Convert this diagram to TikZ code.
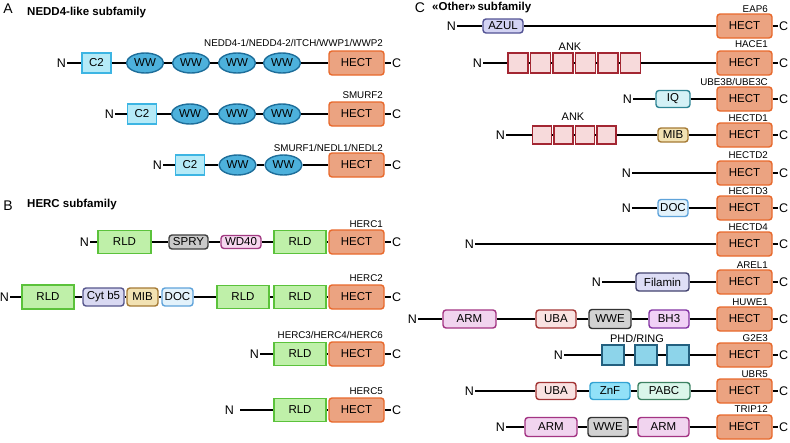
\documentclass[tikz,border=0pt]{standalone}
\usepackage{fontspec}
\setmainfont{Liberation Sans}
\usetikzlibrary{shapes.geometric}
\definecolor{hectfill}{HTML}{EBA381}
\definecolor{hectline}{HTML}{E8692C}
\definecolor{ctwofill}{HTML}{B5EAF7}
\definecolor{ctwoline}{HTML}{3DB5E3}
\definecolor{wwfill}{HTML}{4DB1DC}
\definecolor{wwline}{HTML}{1E6E9A}
\definecolor{rldfill}{HTML}{BFF0A9}
\definecolor{rldline}{HTML}{5BC23B}
\definecolor{spryfill}{HTML}{C9C9C9}
\definecolor{spryline}{HTML}{3F3F3F}
\definecolor{wdfill}{HTML}{F6D7EF}
\definecolor{wdline}{HTML}{A23B83}
\definecolor{cytfill}{HTML}{D9D9F2}
\definecolor{cytline}{HTML}{56568C}
\definecolor{mibfill}{HTML}{F2E2B3}
\definecolor{mibline}{HTML}{A57A35}
\definecolor{docfill}{HTML}{E3F2FB}
\definecolor{docline}{HTML}{5FA3DA}
\definecolor{azulfill}{HTML}{D3D3F3}
\definecolor{azulline}{HTML}{535394}
\definecolor{ankfill}{HTML}{F7DADB}
\definecolor{ankline}{HTML}{A32632}
\definecolor{iqfill}{HTML}{D4F1F6}
\definecolor{iqline}{HTML}{2E8494}
\definecolor{filfill}{HTML}{DEDEF6}
\definecolor{filline}{HTML}{43436F}
\definecolor{armfill}{HTML}{F1D4EF}
\definecolor{armline}{HTML}{A33483}
\definecolor{ubafill}{HTML}{F9E2E1}
\definecolor{ubaline}{HTML}{A33434}
\definecolor{wwefill}{HTML}{D2D2D2}
\definecolor{wweline}{HTML}{333333}
\definecolor{bhfill}{HTML}{F1D2F6}
\definecolor{bhline}{HTML}{8333A3}
\definecolor{phdfill}{HTML}{8DD4EA}
\definecolor{phdline}{HTML}{23607F}
\definecolor{znffill}{HTML}{91E1F8}
\definecolor{znfline}{HTML}{33A3D3}
\definecolor{pabcfill}{HTML}{DAF6EA}
\definecolor{pabcline}{HTML}{3D8263}

\tikzset{
  dom/.style={draw, line width=1.4pt, inner sep=0pt, font=\fontsize{11.5}{12}\selectfont},
  rdom/.style={dom, rounded corners=3pt},
  hect/.style={rdom, fill=hectfill, draw=hectline, minimum width=55pt, minimum height=24pt},
  ctwo/.style={dom, fill=ctwofill, draw=ctwoline, minimum width=29pt, minimum height=20pt},
  ww/.style={dom, ellipse, fill=wwfill, draw=wwline, minimum width=37pt, minimum height=20pt},
  rld/.style={dom, fill=rldfill, draw=rldline, minimum width=52pt, minimum height=23pt},
  spry/.style={rdom, fill=spryfill, draw=spryline},
  wdf/.style={rdom, fill=wdfill, draw=wdline},
  cyt/.style={rdom, fill=cytfill, draw=cytline},
  mib/.style={rdom, fill=mibfill, draw=mibline},
  doc/.style={rdom, fill=docfill, draw=docline},
  azul/.style={rdom, fill=azulfill, draw=azulline},
  ank/.style={dom, fill=ankfill, draw=ankline, minimum width=20pt, minimum height=20pt},
  iq/.style={rdom, fill=iqfill, draw=iqline},
  fil/.style={rdom, fill=filfill, draw=filline},
  arm/.style={rdom, fill=armfill, draw=armline},
  uba/.style={rdom, fill=ubafill, draw=ubaline},
  wwe/.style={rdom, fill=wwefill, draw=wweline},
  bh/.style={rdom, fill=bhfill, draw=bhline},
  phd/.style={dom, fill=phdfill, draw=phdline, minimum width=22pt, minimum height=20pt},
  znf/.style={rdom, fill=znffill, draw=znfline},
  pabc/.style={rdom, fill=pabcfill, draw=pabcline},
  nlab/.style={font=\fontsize{12.5}{14}\selectfont, inner sep=1pt, anchor=east},
  clab/.style={font=\fontsize{12.5}{14}\selectfont, inner sep=1pt, anchor=west},
  lab/.style={font=\fontsize{9.8}{11}\selectfont, inner sep=0pt, anchor=east},
  panel/.style={font=\fontsize{14}{16}\selectfont, inner sep=0pt},
  title/.style={font=\fontsize{11.5}{13}\bfseries\selectfont, inner sep=0pt, anchor=west},
  chain/.style={line width=1.8pt}
}

\begin{document}
\begin{tikzpicture}[x=1pt, y=-1pt]
  \useasboundingbox (0,0) rectangle (790,442);
  % A: NEDD4-like
  \node[panel] (pa) at (8,9) {A};
  \node[title] (ta) at (27,13) {NEDD4-like subfamily};
  % NEDD4-1 row
  \node[nlab] (a1n) at (67,63) {N};
  \node[ctwo] (a1d) at (96.5,63) {C2};
  \node[ww] (a1w1) at (145,63) {WW};
  \node[ww] (a1w2) at (191,63) {WW};
  \node[ww] (a1w3) at (237,63) {WW};
  \node[ww] (a1w4) at (282,63) {WW};
  \node[hect] (a1h) at (356.5,63) {HECT};
  \node[clab] (a1c) at (391,63) {C};
  \node[lab] (a1l) at (383,43) {NEDD4-1/NEDD4-2/ITCH/WWP1/WWP2};
  \draw[chain] (a1n) -- (a1d) -- (a1w1) -- (a1w2) -- (a1w3) -- (a1w4) -- (a1h) -- (a1c);
  % SMURF2 row
  \node[nlab] (a2n) at (115,114) {N};
  \node[ctwo] (a2d) at (142,114) {C2};
  \node[ww] (a2w1) at (190,114) {WW};
  \node[ww] (a2w2) at (237,114) {WW};
  \node[ww] (a2w3) at (282,114) {WW};
  \node[hect] (a2h) at (356.5,114) {HECT};
  \node[clab] (a2c) at (391,114) {C};
  \node[lab] (a2l) at (383,95) {SMURF2};
  \draw[chain] (a2n) -- (a2d) -- (a2w1) -- (a2w2) -- (a2w3) -- (a2h) -- (a2c);
  % SMURF1 row
  \node[nlab] (a3n) at (163,165) {N};
  \node[ctwo] (a3d) at (190,165) {C2};
  \node[ww] (a3w1) at (237.5,165) {WW};
  \node[ww] (a3w2) at (283.5,165) {WW};
  \node[hect] (a3h) at (356.5,165) {HECT};
  \node[clab] (a3c) at (391,165) {C};
  \node[lab] (a3l) at (383,148) {SMURF1/NEDL1/NEDL2};
  \draw[chain] (a3n) -- (a3d) -- (a3w1) -- (a3w2) -- (a3h) -- (a3c);

  % B: HERC
  \node[panel] (pb) at (8,206) {B};
  \node[title] (tb) at (27,205) {HERC subfamily};
  % HERC1 row
  \node[nlab] (b1n) at (90,242) {N};
  \node[rld, minimum width=53pt] (b1r1) at (124.5,242) {RLD};
  \node[spry, minimum width=39pt, minimum height=14pt] (b1s) at (188.5,242) {SPRY};
  \node[wdf, minimum width=40pt, minimum height=13pt] (b1w) at (241,242) {WD40};
  \node[rld] (b1r2) at (300,242) {RLD};
  \node[hect] (b1h) at (356.5,242) {HECT};
  \node[clab] (b1c) at (391,242) {C};
  \node[lab] (b1l) at (383,224) {HERC1};
  \draw[chain] (b1n) -- (b1r1) -- (b1s) -- (b1w) -- (b1r2) -- (b1h) -- (b1c);
  % HERC2 row
  \node[nlab] (b2n) at (10,297) {N};
  \node[rld, minimum height=24pt] (b2r1) at (48,297) {RLD};
  \node[cyt, minimum width=41pt, minimum height=18pt] (b2y) at (103.5,297) {Cyt b5};
  \node[mib, minimum width=31pt, minimum height=18pt] (b2m) at (142.5,297) {MIB};
  \node[doc, minimum width=31pt, minimum height=18pt] (b2d) at (177.5,297) {DOC};
  \node[rld] (b2r2) at (243,297) {RLD};
  \node[rld] (b2r3) at (300,297) {RLD};
  \node[hect] (b2h) at (356.5,297) {HECT};
  \node[clab] (b2c) at (391,297) {C};
  \node[lab] (b2l) at (383,278) {HERC2};
  \draw[chain] (b2n) -- (b2r1) -- (b2y) -- (b2m) -- (b2d) -- (b2r2) -- (b2r3) -- (b2h) -- (b2c);
  % HERC3 row
  \node[nlab] (b3n) at (260,354) {N};
  \node[rld] (b3r) at (300,354) {RLD};
  \node[hect] (b3h) at (356.5,354) {HECT};
  \node[clab] (b3c) at (391,354) {C};
  \node[lab] (b3l) at (383,335) {HERC3/HERC4/HERC6};
  \draw[chain] (b3n) -- (b3r) -- (b3h) -- (b3c);
  % HERC5 row
  \node[nlab] (b4n) at (235,410) {N};
  \node[rld] (b4r) at (300,410) {RLD};
  \node[hect] (b4h) at (356.5,410) {HECT};
  \node[clab] (b4c) at (391,410) {C};
  \node[lab] (b4l) at (383,391) {HERC5};
  \draw[chain, shorten <=5pt] (b4n) -- (b4r);
  \draw[chain] (b4r) -- (b4h) -- (b4c);

  % C: other
  \node[panel] (pc) at (420,8) {C};
  \node[title] (tc) at (432,8) {«Other»\,subfamily};
  % EAP6
  \node[nlab] (c1n) at (457,26) {N};
  \node[azul, minimum width=40pt, minimum height=14pt] (c1a) at (503,26) {AZUL};
  \node[hect] (c1h) at (744.5,26) {HECT};
  \node[clab] (c1c) at (778,26) {C};
  \node[lab] (c1l) at (768,9) {EAP6};
  \draw[chain] (c1n) -- (c1a) -- (c1h) -- (c1c);
  % HACE1
  \node[nlab] (c2n) at (483,63) {N};
  \node[ank] (c2k1) at (518,63) {};
  \node[ank] (c2k2) at (540.5,63) {};
  \node[ank] (c2k3) at (563,63) {};
  \node[ank] (c2k4) at (585.5,63) {};
  \node[ank] (c2k5) at (608,63) {};
  \node[ank] (c2k6) at (630.5,63) {};
  \node[lab, anchor=center, font=\fontsize{11}{12}\selectfont] (c2t) at (570,47) {ANK};
  \node[hect] (c2h) at (744.5,63) {HECT};
  \node[clab] (c2c) at (778,63) {C};
  \node[lab] (c2l) at (768,44) {HACE1};
  \draw[chain] (c2n) -- (c2k1) -- (c2k2) -- (c2k3) -- (c2k4) -- (c2k5) -- (c2k6) -- (c2h) -- (c2c);
  % UBE3B/UBE3C
  \node[nlab] (c3n) at (633,99) {N};
  \node[iq, minimum width=34pt, minimum height=17pt] (c3q) at (673,99) {IQ};
  \node[hect] (c3h) at (744.5,99) {HECT};
  \node[clab] (c3c) at (778,99) {C};
  \node[lab] (c3l) at (768,82) {UBE3B/UBE3C};
  \draw[chain] (c3n) -- (c3q) -- (c3h) -- (c3c);
  % HECTD1
  \node[nlab] (c4n) at (506,135) {N};
  \node[ank, minimum width=19pt, minimum height=18pt] (c4k1) at (542,135) {};
  \node[ank, minimum width=19pt, minimum height=18pt] (c4k2) at (563.5,135) {};
  \node[ank, minimum width=19pt, minimum height=18pt] (c4k3) at (585,135) {};
  \node[ank, minimum width=19pt, minimum height=18pt] (c4k4) at (606.5,135) {};
  \node[lab, anchor=center, font=\fontsize{11}{12}\selectfont] (c4t) at (573,117) {ANK};
  \node[mib, minimum width=30pt, minimum height=14pt] (c4m) at (673,135) {MIB};
  \node[hect] (c4h) at (744.5,135) {HECT};
  \node[clab] (c4c) at (778,135) {C};
  \node[lab] (c4l) at (768,118) {HECTD1};
  \draw[chain] (c4n) -- (c4k1) -- (c4k2) -- (c4k3) -- (c4k4) -- (c4m) -- (c4h) -- (c4c);
  % HECTD2
  \node[nlab] (c5n) at (632,173) {N};
  \node[hect] (c5h) at (744.5,173) {HECT};
  \node[clab] (c5c) at (778,173) {C};
  \node[lab] (c5l) at (768,155) {HECTD2};
  \draw[chain] (c5n) -- (c5h) -- (c5c);
  % HECTD3
  \node[nlab] (c6n) at (632,208) {N};
  \node[doc, minimum width=30pt, minimum height=17pt] (c6d) at (673,208) {DOC};
  \node[hect] (c6h) at (744.5,208) {HECT};
  \node[clab] (c6c) at (778,208) {C};
  \node[lab] (c6l) at (768,191) {HECTD3};
  \draw[chain] (c6n) -- (c6d) -- (c6h) -- (c6c);
  % HECTD4
  \node[nlab] (c7n) at (475,244) {N};
  \node[hect] (c7h) at (744.5,244) {HECT};
  \node[clab] (c7c) at (778,244) {C};
  \node[lab] (c7l) at (768,227) {HECTD4};
  \draw[chain] (c7n) -- (c7h) -- (c7c);
  % AREL1
  \node[nlab] (c8n) at (602,282) {N};
  \node[fil, minimum width=53pt, minimum height=18pt] (c8f) at (662.5,282) {Filamin};
  \node[hect] (c8h) at (744.5,282) {HECT};
  \node[clab] (c8c) at (778,282) {C};
  \node[lab] (c8l) at (768,265) {AREL1};
  \draw[chain] (c8n) -- (c8f) -- (c8h) -- (c8c);
  % HUWE1
  \node[nlab] (c9n) at (418,319) {N};
  \node[arm, minimum width=53pt, minimum height=18pt] (c9a) at (469.5,319) {ARM};
  \node[uba, minimum width=40pt, minimum height=18pt] (c9u) at (556,319) {UBA};
  \node[wwe, minimum width=42pt, minimum height=19pt] (c9w) at (610,319) {WWE};
  \node[bh, minimum width=40pt, minimum height=18pt] (c9b) at (669,319) {BH3};
  \node[hect] (c9h) at (744.5,319) {HECT};
  \node[clab] (c9c) at (778,319) {C};
  \node[lab] (c9l) at (768,302) {HUWE1};
  \draw[chain] (c9n) -- (c9a) -- (c9u) -- (c9w) -- (c9b) -- (c9h) -- (c9c);
  % G2E3
  \node[nlab] (c10n) at (564,355) {N};
  \node[phd] (c10p1) at (613,355) {};
  \node[phd] (c10p2) at (646,355) {};
  \node[phd] (c10p3) at (678,355) {};
  \node[lab, anchor=center, font=\fontsize{11}{12}\selectfont] (c10t) at (637,339) {PHD/RING};
  \node[hect] (c10h) at (744.5,355) {HECT};
  \node[clab] (c10c) at (778,355) {C};
  \node[lab] (c10l) at (768,338) {G2E3};
  \draw[chain] (c10n) -- (c10p1) -- (c10p2) -- (c10p3) -- (c10h) -- (c10c);
  % UBR5
  \node[nlab] (c11n) at (475,391) {N};
  \node[uba, minimum width=40pt, minimum height=17pt] (c11u) at (556,391) {UBA};
  \node[znf, minimum width=40pt, minimum height=17pt] (c11z) at (610,391) {ZnF};
  \node[pabc, minimum width=52pt, minimum height=17pt] (c11p) at (664,391) {PABC};
  \node[hect] (c11h) at (744.5,391) {HECT};
  \node[clab] (c11c) at (778,391) {C};
  \node[lab] (c11l) at (768,374) {UBR5};
  \draw[chain] (c11n) -- (c11u) -- (c11z) -- (c11p) -- (c11h) -- (c11c);
  % TRIP12
  \node[nlab] (c12n) at (506,427) {N};
  \node[arm, minimum width=52pt, minimum height=19pt] (c12a1) at (551,427) {ARM};
  \node[wwe, minimum width=40pt, minimum height=19pt] (c12w) at (608,427) {WWE};
  \node[arm, minimum width=51pt, minimum height=19pt] (c12a2) at (663.5,427) {ARM};
  \node[hect] (c12h) at (744.5,427) {HECT};
  \node[clab] (c12c) at (778,427) {C};
  \node[lab] (c12l) at (768,409) {TRIP12};
  \draw[chain] (c12n) -- (c12a1) -- (c12w) -- (c12a2) -- (c12h) -- (c12c);
\end{tikzpicture}
\end{document}
